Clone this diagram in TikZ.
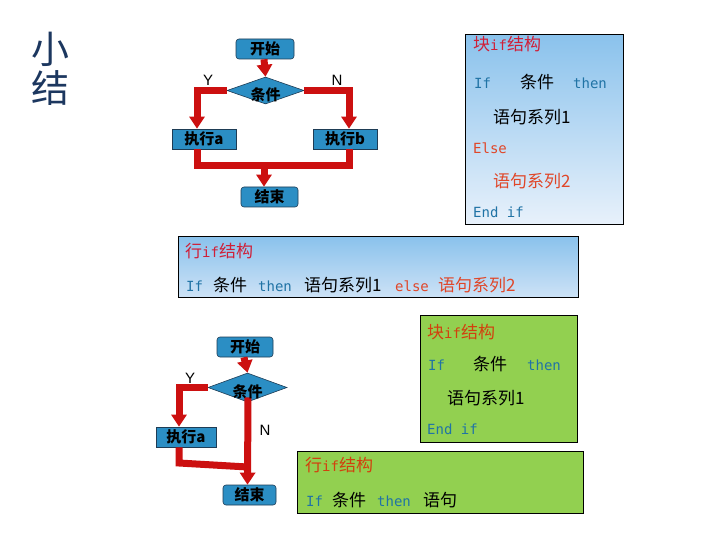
\documentclass[tikz,border=0pt]{standalone}
\usepackage{fontspec}
\setmainfont{Noto Sans CJK SC}
\newfontfamily\cjk{Noto Sans CJK SC}
\newfontfamily\monof{DejaVu Sans Mono}
\newfontfamily\latf{Liberation Sans}
\usetikzlibrary{shapes.geometric,arrows.meta}
\definecolor{fcblue}{RGB}{43,142,196}
\definecolor{fcedge}{RGB}{30,60,85}
\definecolor{conred}{RGB}{204,16,16}
\definecolor{titlecol}{RGB}{28,55,95}
\definecolor{codeblue}{RGB}{32,115,165}
\definecolor{codecrim}{RGB}{208,30,55}
\definecolor{codeorange}{RGB}{224,70,40}
\definecolor{greenorange}{RGB}{210,64,14}
\definecolor{boxtop}{RGB}{138,194,236}
\definecolor{boxbot}{RGB}{232,241,251}
\definecolor{boxbotb}{RGB}{205,226,246}
\definecolor{gfill}{RGB}{146,208,80}
\newcommand\codelat[1]{{\monof\fontsize{14}{16}\selectfont #1}}
\tikzset{
  fcnode/.style={draw=fcedge, line width=0.6pt, fill=fcblue, inner sep=0pt,
    font=\cjk\bfseries\fontsize{15}{17}\selectfont, text=black},
  fcround/.style={fcnode, rounded corners=3pt},
  fcdiam/.style={fcnode, diamond, aspect=2.8},
  conn/.style={draw=conred, line width=7pt, line join=miter},
  connarrow/.style={conn, -{Triangle[width=15pt,length=12pt]}},
  yn/.style={font=\latf\fontsize{15}{17}\selectfont, inner sep=0pt},
  panel/.style={draw=black, line width=0.8pt, anchor=north west, inner sep=0pt},
  ctxt/.style={anchor=base west, inner sep=0pt, font=\cjk\fontsize{17}{19}\selectfont},
  ltxt/.style={anchor=base west, inner sep=0pt, font=\monof\fontsize{14}{16}\selectfont},
}
\begin{document}
\begin{tikzpicture}[x=1pt,y=-1pt]
\useasboundingbox[fill=white] (0,0) rectangle (720,540);

% title
\node[text=titlecol, font=\cjk\fontsize{38}{40}\selectfont, inner sep=0pt] (t1) at (50,49) {小};
\node[text=titlecol, font=\cjk\fontsize{38}{40}\selectfont, inner sep=0pt] (t2) at (50,88) {结};

% ---------- top flowchart ----------
\node[fcround, minimum width=58pt, minimum height=20pt] (start1) at (265,49) {开始};
\node[fcdiam, minimum width=77pt, minimum height=27pt] (cond1) at (265.5,90.5) {};
\node[font=\cjk\bfseries\fontsize{15}{17}\selectfont, inner sep=0pt] (cond1t) at (265.5,95) {条件};
\node[fcnode, minimum width=64pt, minimum height=20pt] (exa1) at (204,139) {执行a};
\node[fcnode, minimum width=64pt, minimum height=20pt] (exb1) at (345,139) {执行b};
\node[fcround, minimum width=57pt, minimum height=20pt] (end1) at (269.5,197) {结束};
\node[yn] (y1) at (208,80) {Y};
\node[yn] (n1) at (337,80) {N};
\coordinate (m1) at (264,166);

\draw[connarrow] ([xshift=-1pt]start1.south) -- (cond1.north);
\draw[connarrow] (cond1.west) -| ([xshift=-7pt]exa1.north);
\draw[connarrow] (cond1.east) -| ([xshift=4pt]exb1.north);
\draw[conn] ([xshift=-7pt]exa1.south) |- (m1) -| ([xshift=4pt]exb1.south);
\draw[connarrow] (m1) -- ([xshift=-5.5pt]end1.north);

% ---------- top-right block if panel ----------
\node[panel, top color=boxtop, bottom color=boxbot, minimum width=158pt, minimum height=190pt] (blk1) at (465,34) {};
\node[ctxt, text=codecrim] (b1a) at (473,51) {块\codelat{if}结构};
\node[ltxt, text=codeblue] (b1b) at (474,89) {If};
\node[ctxt] (b1c) at (520,89) {条件};
\node[ltxt, text=codeblue] (b1d) at (573,89) {then};
\node[ctxt] (b1e) at (493,124) {语句系列1};
\node[ltxt, text=codeorange] (b1f) at (473,154) {Else};
\node[ctxt, text=codeorange] (b1g) at (493,188) {语句系列2};
\node[ltxt, text=codeblue] (b1h) at (473,218) {End  if};

% ---------- row if panel (blue) ----------
\node[panel, top color=boxtop, bottom color=boxbotb, minimum width=400pt, minimum height=61pt] (row1) at (178,236) {};
\node[ctxt, text=codecrim] (r1a) at (185,258) {行\codelat{if}结构};
\node[ltxt, text=codeblue] (r1b) at (186,291) {If};
\node[ctxt] (r1c) at (213,291) {条件};
\node[ltxt, text=codeblue] (r1d) at (258,291) {then};
\node[ctxt] (r1e) at (304,291) {语句系列1};
\node[ltxt, text=codeorange] (r1f) at (395,291) {else};
\node[ctxt, text=codeorange] (r1g) at (438,291) {语句系列2};

% ---------- bottom flowchart ----------
\node[fcround, minimum width=56pt, minimum height=20pt] (start2) at (245,347) {开始};
\node[fcdiam, minimum width=79pt, minimum height=29pt] (cond2) at (247.5,387.5) {};
\node[fcnode, minimum width=60pt, minimum height=20pt] (exa2) at (186,437) {执行a};
\node[fcround, minimum width=53pt, minimum height=20pt] (end2) at (249.5,495) {结束};
\node[yn] (y2) at (190,378) {Y};
\node[yn] (n2) at (265,430) {N};
\coordinate (m2) at (247.5,467);

\draw[connarrow] ([xshift=-1pt]start2.south) -- (cond2.north);
\draw[connarrow] (cond2.west) -| ([xshift=-7pt]exa2.north);
\draw[conn] ([xshift=-7pt]exa2.south) -- ([xshift=-7pt]exa2.south |- 0,463) -- (m2);
\draw[connarrow] ([xshift=0.5pt,yshift=5pt]cond2.south) -- ([xshift=-2pt]end2.north);
\node[font=\cjk\bfseries\fontsize{15}{17}\selectfont, inner sep=0pt] (cond2t) at (247.5,392) {条件};

% ---------- green block if panel ----------
\node[panel, fill=gfill, minimum width=157pt, minimum height=127pt] (blk2) at (420,315) {};
\node[ctxt, text=greenorange] (b2a) at (427,338) {块\codelat{if}结构};
\node[ltxt, text=codeblue] (b2b) at (428,370) {If};
\node[ctxt] (b2c) at (473,370) {条件};
\node[ltxt, text=codeblue] (b2d) at (527,370) {then};
\node[ctxt] (b2e) at (447,404) {语句系列1};
\node[ltxt, text=codeblue] (b2f) at (427,434) {End  if};

% ---------- green row if panel ----------
\node[panel, fill=gfill, minimum width=286pt, minimum height=62pt] (row2) at (297,451) {};
\node[ctxt, text=greenorange] (r2a) at (305,471) {行\codelat{if}结构};
\node[ltxt, text=codeblue] (r2b) at (306,506) {If};
\node[ctxt] (r2c) at (332,506) {条件};
\node[ltxt, text=codeblue] (r2d) at (377,506) {then};
\node[ctxt] (r2e) at (423,506) {语句};
\end{tikzpicture}
\end{document}
